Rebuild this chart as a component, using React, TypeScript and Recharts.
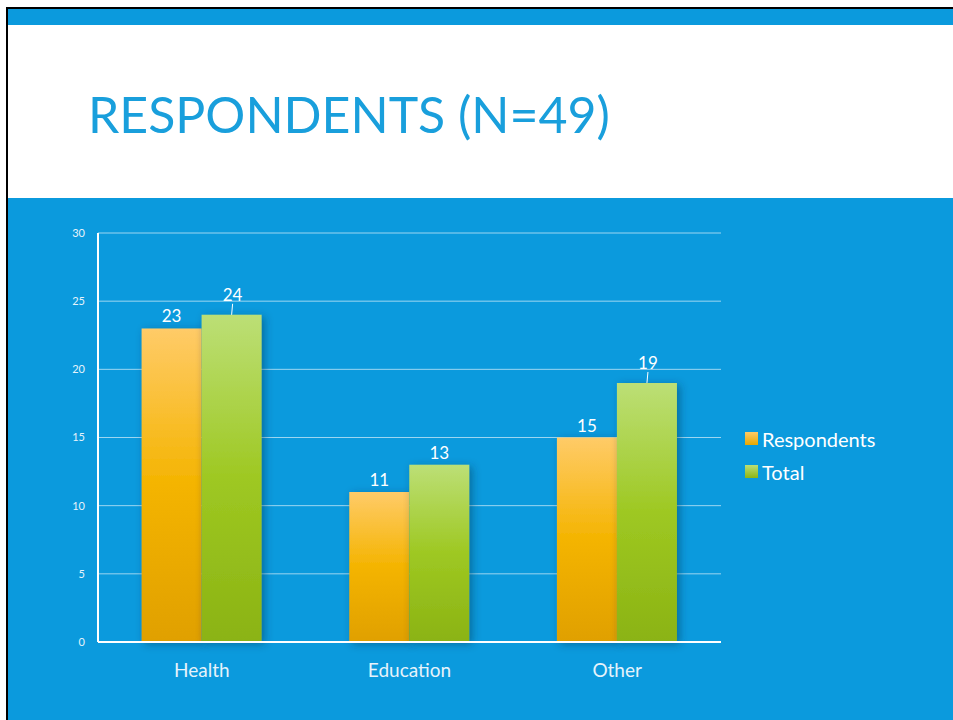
import React from 'react';
import { BarChart, Bar, XAxis, YAxis, CartesianGrid, LabelList } from 'recharts';

const categories = ['Health', 'Education', 'Other'];
const respondents = [23, 11, 15];
const totals = [24, 13, 19];
const yTicks = [0, 5, 10, 15, 20, 25, 30];

// labels that Excel pushed up with a leader line
const leaderOnTotal = [true, false, true];

const data = categories.map((name, i) => ({
    name,
    respondents: respondents[i],
    total: totals[i],
}));

const BLUE = '#0b9add';
const FONT = 'Lato, "Open Sans", sans-serif';

const TotalLabel = (props: any) => {
    const { x, y, width, value, index } = props;
    const cx = x + width / 2;
    if (leaderOnTotal[index]) {
        return (
            <g>
                <line x1={cx + 1} y1={y - 11} x2={cx} y2={y} stroke="#ffffff" strokeWidth={1} />
                <text x={cx + 1} y={y - 14} textAnchor="middle" fill="#ffffff" fontSize={17} fontFamily={FONT}>
                    {value}
                </text>
            </g>
        );
    }
    return (
        <text x={cx} y={y - 6} textAnchor="middle" fill="#ffffff" fontSize={17} fontFamily={FONT}>
            {value}
        </text>
    );
};

export default function App() {
    return (
        <div style={{ position: 'absolute', left: 0, top: 0, width: 953, height: 720, background: '#ffffff', overflow: 'hidden' }}>
            {/* slide frame */}
            <div style={{ position: 'absolute', left: 6, top: 7, right: 0, height: 2, background: '#000000' }}></div>
            <div style={{ position: 'absolute', left: 6, top: 7, bottom: 0, width: 2, background: '#000000' }}></div>
            <div style={{ position: 'absolute', left: 8, top: 9, right: 0, height: 16, background: BLUE }}></div>
            <div style={{ position: 'absolute', left: 8, top: 198, right: 0, bottom: 0, background: BLUE }}></div>

            <div style={{ position: 'absolute', left: 88, top: 84, fontFamily: FONT, fontSize: 50, color: '#199fdc', lineHeight: '60px', whiteSpace: 'nowrap' }}>
                RESPONDENTS (N=49)
            </div>

            <div style={{ position: 'absolute', left: 8, top: 198 }}>
                <BarChart
                    width={945}
                    height={522}
                    data={data}
                    margin={{ top: 35, right: 232, bottom: 48, left: 0 }}
                    barCategoryGap="21%"
                    barGap={0}
                >
                    <defs>
                        <linearGradient id="gradResp" x1="0" y1="0" x2="0" y2="1">
                            <stop offset="0%" stopColor="#ffcb68" />
                            <stop offset="50%" stopColor="#f4b400" />
                            <stop offset="100%" stopColor="#e0a000" />
                        </linearGradient>
                        <linearGradient id="gradTotal" x1="0" y1="0" x2="0" y2="1">
                            <stop offset="0%" stopColor="#bcdf76" />
                            <stop offset="50%" stopColor="#9ec822" />
                            <stop offset="100%" stopColor="#8bb314" />
                        </linearGradient>
                        <filter id="barShadow" x="-20%" y="-10%" width="150%" height="130%">
                            <feDropShadow dx="3" dy="2" stdDeviation="4" floodColor="#003050" floodOpacity="0.45" />
                        </filter>
                    </defs>
                    <CartesianGrid vertical={false} stroke="rgba(255,255,255,0.6)" strokeWidth={1} />
                    <XAxis
                        dataKey="name"
                        height={30}
                        axisLine={{ stroke: '#ffffff', strokeWidth: 2 }}
                        tickLine={false}
                        tickSize={0}
                        tickMargin={22}
                        tick={{ fill: '#e6f3fb', fontSize: 19, fontFamily: FONT }}
                    />
                    <YAxis
                        width={90}
                        domain={[0, 30]}
                        ticks={yTicks}
                        interval={0}
                        axisLine={{ stroke: '#ffffff', strokeWidth: 2 }}
                        tickLine={false}
                        tickSize={0}
                        tickMargin={13}
                        tick={{ fill: '#e6f3fb', fontSize: 11, fontFamily: FONT }}
                    />
                    <Bar dataKey="respondents" name="Respondents" fill="url(#gradResp)" filter="url(#barShadow)" isAnimationActive={false}>
                        <LabelList dataKey="respondents" position="top" offset={6} fill="#ffffff" fontSize={17} fontFamily={FONT} />
                    </Bar>
                    <Bar dataKey="total" name="Total" fill="url(#gradTotal)" filter="url(#barShadow)" isAnimationActive={false}>
                        <LabelList dataKey="total" content={TotalLabel} />
                    </Bar>
                </BarChart>
            </div>

            {/* legend */}
            <div style={{ position: 'absolute', left: 745, top: 422, fontFamily: FONT, fontSize: 20, color: '#ffffff' }}>
                <div style={{ display: 'flex', alignItems: 'center', height: 33 }}>
                    <span style={{ width: 13, height: 13, marginRight: 4, background: 'linear-gradient(#ffcb68, #e8a800)' }} />
                    Respondents
                </div>
                <div style={{ display: 'flex', alignItems: 'center', height: 33 }}>
                    <span style={{ width: 13, height: 13, marginRight: 4, background: 'linear-gradient(#bcdf76, #8db513)' }} />
                    Total
                </div>
            </div>
        </div>
    );
}
